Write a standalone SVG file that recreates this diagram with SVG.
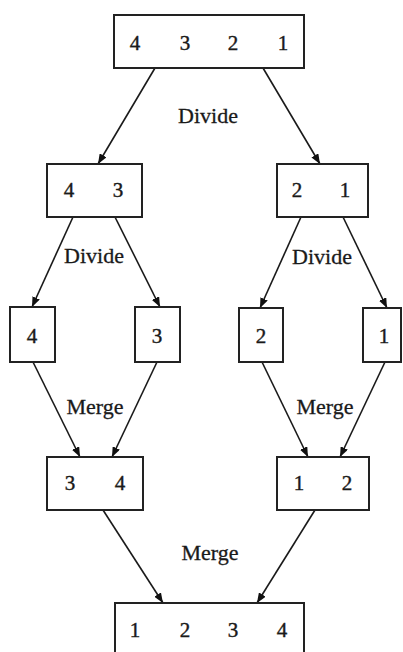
<svg xmlns="http://www.w3.org/2000/svg" width="403" height="652" viewBox="0 0 403 652">
<defs>
<marker id="ah" markerWidth="10" markerHeight="8" refX="10" refY="4" orient="auto" markerUnits="userSpaceOnUse">
<path d="M0,0 L10,4 L0,8 Z" fill="#111"/>
</marker>
<style>
.box{fill:#fff;stroke:#222;stroke-width:2}
.num{font-family:"Liberation Serif","Times New Roman",serif;font-size:21px;fill:#1a1a1a;stroke:#1a1a1a;stroke-width:0.4;text-anchor:middle}
.lbl{font-family:"Liberation Serif","Times New Roman",serif;font-size:22px;fill:#1a1a1a;stroke:#1a1a1a;stroke-width:0.3;text-anchor:middle}
.c{stroke:#1a1a1a;stroke-width:1.6;fill:none;marker-end:url(#ah)}
</style>
</defs>
<rect width="403" height="652" fill="#fff"/>
<g id="connectors">
<line class="c" x1="155" y1="68" x2="98" y2="164"/>
<line class="c" x1="263" y1="68" x2="320" y2="164"/>
<line class="c" x1="73" y1="217" x2="32" y2="307"/>
<line class="c" x1="115" y1="217" x2="160" y2="307"/>
<line class="c" x1="301" y1="217" x2="260" y2="308"/>
<line class="c" x1="343" y1="217" x2="387" y2="308"/>
<line class="c" x1="33" y1="362" x2="80" y2="457"/>
<line class="c" x1="157" y1="362" x2="112" y2="457"/>
<line class="c" x1="262" y1="362" x2="308" y2="457"/>
<line class="c" x1="385" y1="362" x2="340" y2="457"/>
<line class="c" x1="103" y1="510" x2="163" y2="603"/>
<line class="c" x1="315" y1="510" x2="257" y2="603"/>
</g>
<g id="labels">
<text class="lbl" x="208" y="123">Divide</text>
<text class="lbl" x="94" y="263">Divide</text>
<text class="lbl" x="322" y="264">Divide</text>
<text class="lbl" x="95" y="414">Merge</text>
<text class="lbl" x="325" y="414">Merge</text>
<text class="lbl" x="210" y="560">Merge</text>
</g>
<g id="n4321">
<rect class="box" x="114" y="15" width="190" height="53"/>
<text class="num" x="135" y="50">4</text><text class="num" x="185" y="50">3</text><text class="num" x="233" y="50">2</text><text class="num" x="283" y="50">1</text>
</g>
<g id="n43">
<rect class="box" x="47" y="164" width="95" height="53"/>
<text class="num" x="69" y="197">4</text><text class="num" x="118" y="197">3</text>
</g>
<g id="n21">
<rect class="box" x="277" y="164" width="91" height="53"/>
<text class="num" x="297" y="197">2</text><text class="num" x="345" y="197">1</text>
</g>
<g id="n4">
<rect class="box" x="10" y="307" width="45" height="55"/>
<text class="num" x="32" y="343">4</text>
</g>
<g id="n3">
<rect class="box" x="135" y="307" width="45" height="55"/>
<text class="num" x="157" y="343">3</text>
</g>
<g id="n2">
<rect class="box" x="239" y="308" width="44" height="54"/>
<text class="num" x="261" y="343">2</text>
</g>
<g id="n1">
<rect class="box" x="363" y="308" width="38" height="54"/>
<text class="num" x="384" y="343">1</text>
</g>
<g id="n34">
<rect class="box" x="47" y="457" width="96" height="53"/>
<text class="num" x="70" y="490">3</text><text class="num" x="120" y="490">4</text>
</g>
<g id="n12">
<rect class="box" x="277" y="457" width="92" height="53"/>
<text class="num" x="299" y="490">1</text><text class="num" x="347" y="490">2</text>
</g>
<g id="n1234">
<rect class="box" x="115" y="603" width="189" height="60"/>
<text class="num" x="135" y="637">1</text><text class="num" x="185" y="637">2</text><text class="num" x="233" y="637">3</text><text class="num" x="282" y="637">4</text>
</g>
</svg>
